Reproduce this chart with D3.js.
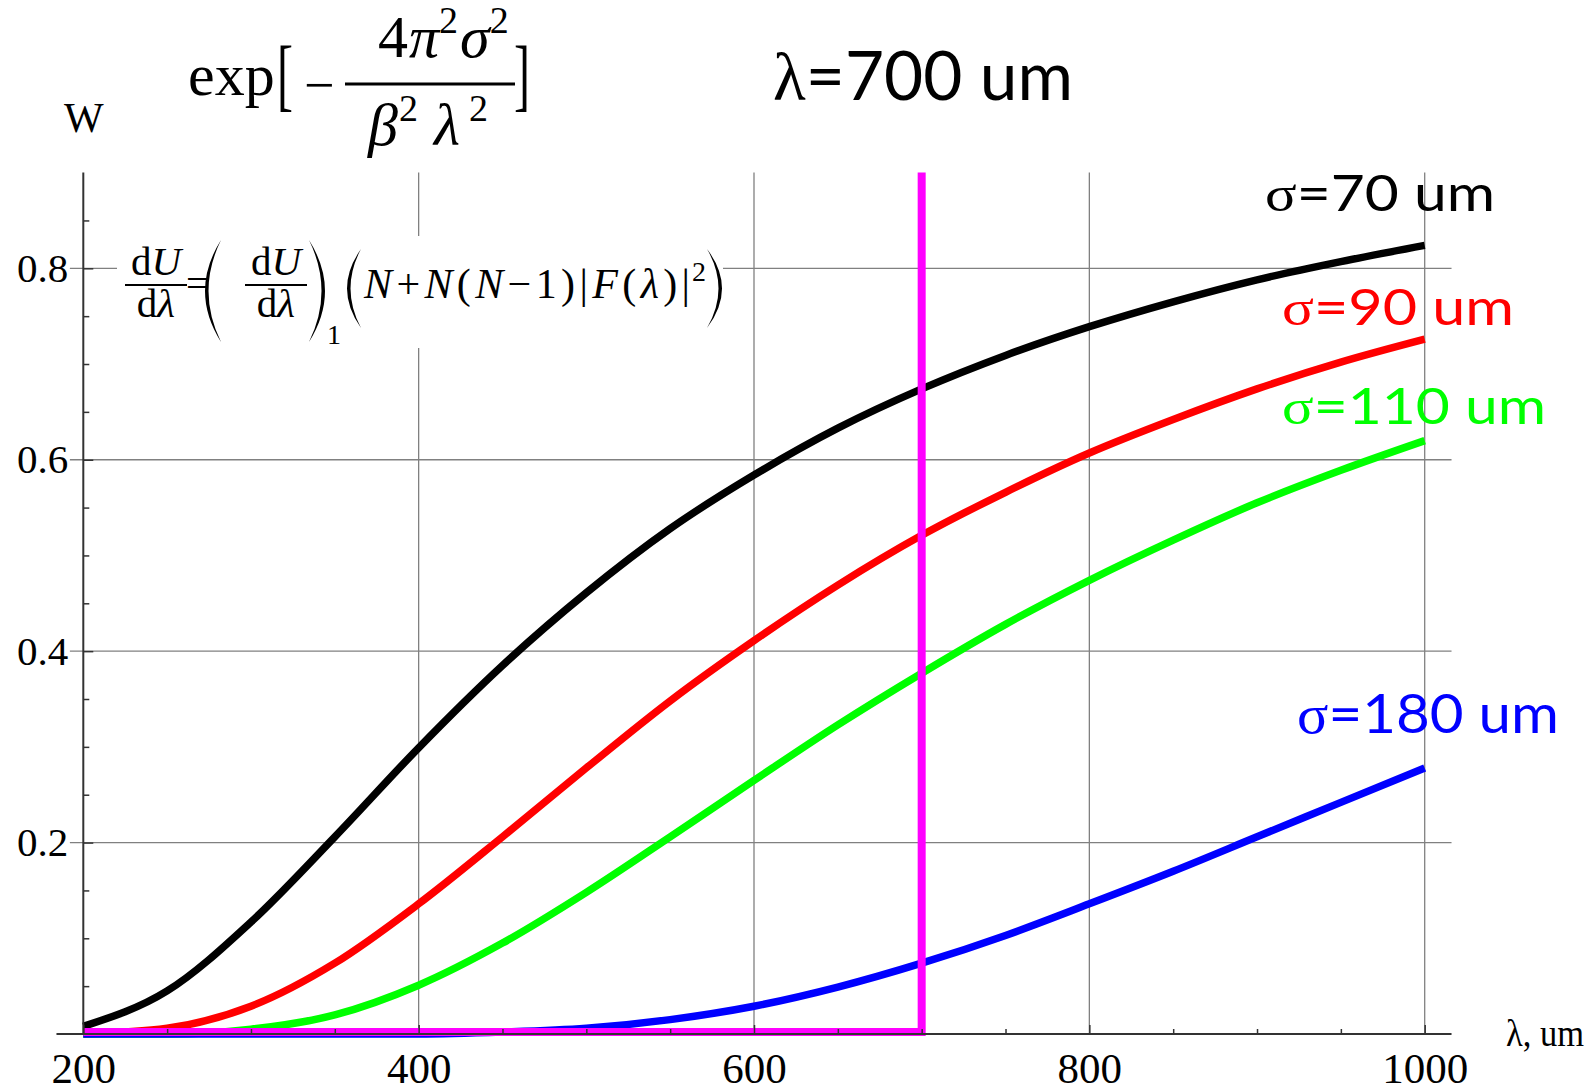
<!DOCTYPE html>
<html><head><meta charset="utf-8">
<script src="https://cdn.jsdelivr.net/npm/d3@7"></script>
<style>html,body{margin:0;padding:0;background:#fff;overflow:hidden}</style>
</head><body><svg id="c" width="1593" height="1092"></svg>
<script>
// ---- data ----
const lambda = [200,250,300,350,400,450,500,550,600,650,700,750,800,850,900,950,1000];
const w70  = [0.008,0.045,0.117,0.206,0.299,0.385,0.461,0.528,0.584,0.633,0.674,0.709,0.739,0.765,0.788,0.807,0.824];
const w90  = [0.000,0.006,0.029,0.074,0.136,0.206,0.278,0.348,0.411,0.469,0.521,0.566,0.607,0.642,0.674,0.702,0.726];
const w110 = [0.000,0.000,0.005,0.020,0.051,0.095,0.148,0.206,0.265,0.323,0.377,0.428,0.474,0.516,0.555,0.589,0.620];
const w180 = [0.000,0.000,0.000,0.000,0.000,0.002,0.006,0.015,0.029,0.049,0.074,0.103,0.136,0.170,0.206,0.242,0.278];
const seriesNames = ["σ=70 um","σ=90 um","σ=110 um","σ=180 um"];
const seriesColors = ["#000000","#ff0000","#00ff00","#0000ff"];
const markerLambda = 700;
const xMajorTicks = [200,400,600,800,1000];
const xMinorTicks = [250,300,350,450,500,550,650,700,750,850,900,950];
const yMajorTicks = [0.2,0.4,0.6,0.8];
const yMinorTicks = [0.05,0.1,0.15,0.25,0.3,0.35,0.45,0.5,0.55,0.65,0.7,0.75,0.85];
const yTickLabels = ["0.2","0.4","0.6","0.8"];
const xTickLabels = ["200","400","600","800","1000"];
const xAxisTitle = "λ, um";
const yAxisTitle = "W";
const titleText = "λ=700 um";

// ---- layout ----
const svg = d3.select("#c");
const x = d3.scaleLinear().domain([200,1000]).range([83.3,1424.7]);
const y = d3.scaleLinear().domain([0,0.8]).range([1034,268.3]);
const xLo = 184, xHi = 1016, yTop = 0.9;
const serif = "'Liberation Serif','Times New Roman',serif";
const sans = "Lato,'Open Sans',sans-serif";

// gridlines
const grid = svg.append("g").attr("stroke","#808080").attr("stroke-width",1.3);
grid.selectAll("line.v").data(xMajorTicks.slice(1)).join("line")
  .attr("x1",d=>x(d)).attr("x2",d=>x(d)).attr("y1",y(yTop)).attr("y2",y(0));
grid.selectAll("line.h").data(yMajorTicks).join("line")
  .attr("x1",x(192)).attr("x2",x(xHi)).attr("y1",d=>y(d)).attr("y2",d=>y(d));

// curves
const series = [w70,w90,w110,w180];
const line = d3.line().x((d,i)=>x(lambda[i])).y(d=>y(d)).curve(d3.curveMonotoneX);
svg.append("g").selectAll("path").data(series).join("path")
  .attr("d",d=>line(d)).attr("fill","none")
  .attr("stroke",(d,i)=>seriesColors[i]).attr("stroke-width",7.5)
  .attr("stroke-linejoin","round");

// magenta marker (step at lambda = 700)
svg.append("path")
  .attr("d", d3.line()([[x(200),y(0)-2],[x(markerLambda),y(0)-2],[x(markerLambda),y(yTop)]]))
  .attr("fill","none").attr("stroke","#ff00ff").attr("stroke-width",8);

// axes
const axCol = "#333";
svg.append("line").attr("x1",x(xLo)).attr("x2",x(xHi)).attr("y1",y(0)).attr("y2",y(0))
  .attr("stroke",axCol).attr("stroke-width",2);
svg.append("line").attr("x1",x(200)).attr("x2",x(200)).attr("y1",y(yTop)).attr("y2",y(0))
  .attr("stroke",axCol).attr("stroke-width",2);

const xAx = svg.append("g").attr("transform",`translate(0,${y(0)})`)
  .call(d3.axisBottom(x).tickValues(xMajorTicks).tickSizeInner(-9).tickSizeOuter(0).tickPadding(18)
        .tickFormat((d,i)=>xTickLabels[i]));
xAx.select(".domain").remove();
xAx.selectAll("line").attr("stroke",axCol).attr("stroke-width",1.5);
xAx.selectAll("text").attr("font-family",serif).attr("font-size",43).attr("fill","#000");
const xMin = svg.append("g").attr("transform",`translate(0,${y(0)})`)
  .call(d3.axisBottom(x).tickValues(xMinorTicks).tickSizeInner(-5).tickSizeOuter(0).tickFormat(""));
xMin.select(".domain").remove();
xMin.selectAll("line").attr("stroke",axCol).attr("stroke-width",1.5);

const yAx = svg.append("g").attr("transform",`translate(${x(200)},0)`)
  .call(d3.axisLeft(y).tickValues(yMajorTicks).tickSizeInner(-10).tickSizeOuter(0).tickPadding(15)
        .tickFormat((d,i)=>yTickLabels[i]));
yAx.select(".domain").remove();
yAx.selectAll("line").attr("stroke",axCol).attr("stroke-width",1.5);
yAx.selectAll("text").attr("font-family",serif).attr("font-size",41).attr("fill","#000");
const yMin = svg.append("g").attr("transform",`translate(${x(200)},0)`)
  .call(d3.axisLeft(y).tickValues(yMinorTicks).tickSizeInner(-6).tickSizeOuter(0).tickFormat(""));
yMin.select(".domain").remove();
yMin.selectAll("line").attr("stroke",axCol).attr("stroke-width",1.5);

// axis titles
svg.append("text").attr("x",1506).attr("y",1046).attr("font-family",serif).attr("font-size",38)
  .attr("textLength",78).attr("lengthAdjust","spacingAndGlyphs").text(xAxisTitle);
svg.append("text").attr("x",64).attr("y",132).attr("font-family",serif).attr("font-size",42)
  .text(yAxisTitle);

// series labels
const labelPos = [[1265,211,50,230],[1282,325,50,232],[1282,424,50,264],[1297,733,54,262]];
seriesNames.forEach((name,i)=>{
  const [lx,ly,fs,tl] = labelPos[i];
  const t = svg.append("text").attr("x",lx).attr("y",ly).attr("font-size",fs)
    .attr("fill",seriesColors[i]).attr("textLength",tl).attr("lengthAdjust","spacingAndGlyphs");
  t.append("tspan").attr("font-family",serif).text(name[0]);
  t.append("tspan").attr("font-family",sans).text(name.slice(1));
});

// title
const tt = svg.append("text").attr("x",773).attr("y",100).attr("font-size",67)
  .attr("textLength",300).attr("lengthAdjust","spacingAndGlyphs");
tt.append("tspan").attr("font-family",serif).text(titleText[0]);
tt.append("tspan").attr("font-family",sans).text(titleText.slice(1));

// formula 1: exp[-4π²σ²/(β²λ²)]
const f1 = svg.append("g").attr("font-family",serif).attr("fill","#000");
f1.append("text").attr("x",188).attr("y",95).attr("font-size",60).text("exp");
f1.append("text").attr("x",277).attr("y",101).attr("font-size",80)
  .attr("textLength",16).attr("lengthAdjust","spacingAndGlyphs").text("[");
f1.append("text").attr("x",304).attr("y",103).attr("font-size",54).text("−");
f1.append("line").attr("x1",345).attr("x2",515).attr("y1",84).attr("y2",84).attr("stroke","#000").attr("stroke-width",3);
const num = f1.append("text").attr("x",378).attr("y",57).attr("font-size",60);
num.append("tspan").text("4");
num.append("tspan").attr("font-style","italic").attr("dx",1).text("π");
num.append("tspan").attr("font-size",38).attr("dx",0).attr("dy",-24).text("2");
num.append("tspan").attr("font-style","italic").attr("dx",2).attr("dy",24).text("σ");
num.append("tspan").attr("font-size",38).attr("dx",0).attr("dy",-24).text("2");
const den = f1.append("text").attr("x",368).attr("y",145).attr("font-size",60);
den.append("tspan").attr("font-style","italic").text("β");
den.append("tspan").attr("font-size",38).attr("dx",1).attr("dy",-24).text("2");
den.append("tspan").attr("font-style","italic").attr("dx",16).attr("dy",24).text("λ");
den.append("tspan").attr("font-size",38).attr("dx",9).attr("dy",-24).text("2");
f1.append("text").attr("x",514).attr("y",101).attr("font-size",80)
  .attr("textLength",16).attr("lengthAdjust","spacingAndGlyphs").text("]");

// formula 2 (boxed)
const f2 = svg.append("g").attr("font-family",serif).attr("fill","#000");
f2.append("rect").attr("x",117).attr("y",236).attr("width",606).attr("height",112).attr("fill","#fff");
function frac(cx, top){
  const n = f2.append("text").attr("x",cx).attr("y",top).attr("font-size",41).attr("text-anchor","middle");
  n.append("tspan").text("d"); n.append("tspan").attr("font-style","italic").text("U");
  f2.append("line").attr("x1",cx-31).attr("x2",cx+31).attr("y1",top+10).attr("y2",top+10)
    .attr("stroke","#000").attr("stroke-width",1.8);
  const d = f2.append("text").attr("x",cx).attr("y",top+42).attr("font-size",41).attr("text-anchor","middle");
  d.append("tspan").text("d"); d.append("tspan").attr("font-style","italic").text("λ");
}
frac(156,275);
f2.append("text").attr("x",186).attr("y",297).attr("font-size",40).text("=");
function paren(xEdge, xBulge, y0, y1, left){
  const s = left ? 1 : -1;
  const cOut = 2*xBulge - xEdge, cIn = cOut + s*7;
  const ym = (y0+y1)/2;
  f2.append("path").attr("d",`M${xEdge},${y0} Q${cOut},${ym} ${xEdge},${y1} Q${cIn},${ym} ${xEdge},${y0}Z`)
    .attr("fill","#000");
}
paren(221,205,240,342,true);
frac(276,275);
paren(309,325,240,342,false);
f2.append("text").attr("x",327).attr("y",344).attr("font-size",28).text("1");
paren(361,347,249,328,true);
const m = f2.append("text").attr("x",364).attr("y",298).attr("font-size",42)
  .attr("textLength",326).attr("lengthAdjust","spacing");
m.append("tspan").attr("font-style","italic").text("N");
m.append("tspan").text("+");
m.append("tspan").attr("font-style","italic").text("N");
m.append("tspan").text("(");
m.append("tspan").attr("font-style","italic").text("N");
m.append("tspan").text("−1)|");
m.append("tspan").attr("font-style","italic").text("F");
m.append("tspan").text("(");
m.append("tspan").attr("font-style","italic").text("λ");
m.append("tspan").text(")|");
f2.append("text").attr("x",692).attr("y",281).attr("font-size",28).text("2");
paren(707,722,249,328,false);
</script></body></html>
